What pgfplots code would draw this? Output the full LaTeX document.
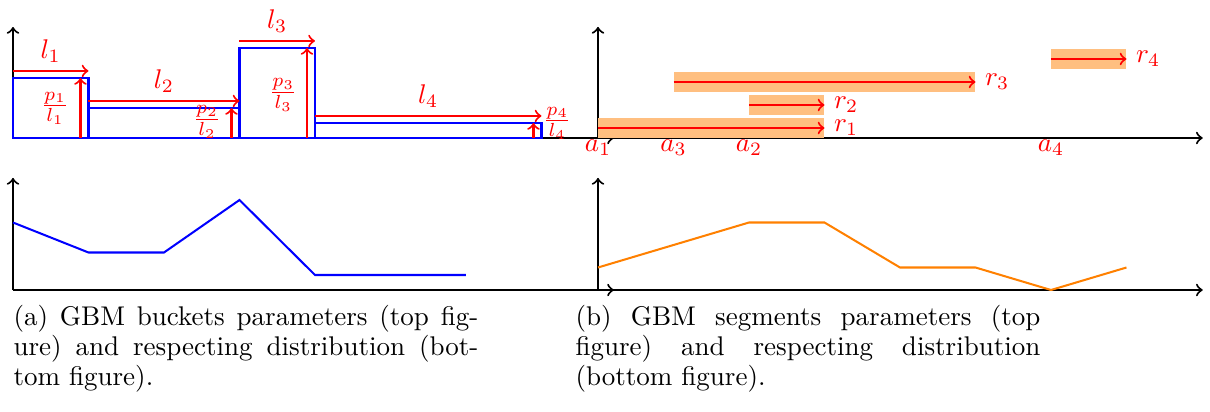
\documentclass[border=0pt]{standalone}
\usepackage{pgfplots}
\pgfplotsset{compat=1.18}
\begin{document}
\begin{tikzpicture}
\useasboundingbox (0pt,0pt) rectangle (447.7pt,-152.44pt);
\pgfplotsset{
  gbm/.style={
    axis lines=left, ticks=none, clip=false,
    axis line style={line width=0.75pt, -to},
    x=27.935pt, xmin=0, ymin=0, anchor=origin,
    every axis plot/.append style={line width=0.75pt},
  }
}
% ---------- top left: buckets ----------
\begin{axis}[gbm, at={(4.81pt,-51.06pt)}, y=5.55pt, xmax=7.96, ymax=7.4]
\addplot[ybar interval, draw=blue, fill=none] coordinates {(0,4) (1,2) (3,6) (4,1) (7,1)};
\addplot[red,-to] coordinates {(0,4.47) (1,4.47)};
\addplot[red,-to] coordinates {(0.894,0) (0.894,4)};
\addplot[red,-to] coordinates {(1,2.47) (3,2.47)};
\addplot[red,-to] coordinates {(2.894,0) (2.894,2)};
\addplot[red,-to] coordinates {(3,6.47) (4,6.47)};
\addplot[red,-to] coordinates {(3.894,0) (3.894,6)};
\addplot[red,-to] coordinates {(4,1.47) (7,1.47)};
\addplot[red,-to] coordinates {(6.894,0) (6.894,1)};
\node[red, anchor=base, yshift=4.5pt] at (axis cs:0.5,4.47) {$l_1$};
\node[red, anchor=base, yshift=4.5pt] at (axis cs:2,2.47) {$l_2$};
\node[red, anchor=base, yshift=4.5pt] at (axis cs:3.5,6.47) {$l_3$};
\node[red, anchor=base, yshift=4.5pt] at (axis cs:5.5,1.47) {$l_4$};
\node[red, inner sep=0pt] at (axis cs:0.556,2.0) {$\frac{p_1}{l_1}$};
\node[red, inner sep=0pt] at (axis cs:2.57,1.07) {$\frac{p_2}{l_2}$};
\node[red, inner sep=0pt] at (axis cs:3.58,2.87) {$\frac{p_3}{l_3}$};
\node[red, inner sep=0pt] at (axis cs:7.21,1.0) {$\frac{p_4}{l_4}$};
\end{axis}
% ---------- bottom left ----------
\begin{axis}[gbm, at={(4.81pt,-107.3pt)}, y=5.55pt, xmax=7.96, ymax=7.47]
\addplot[blue] coordinates {(0,4.5) (1,2.5) (2,2.5) (3,6) (4,1) (6,1)};
\end{axis}
% ---------- top right: segments ----------
\begin{axis}[gbm, at={(221.26pt,-51.06pt)}, y=8.51pt, xmax=8.01, ymax=4.83]
\addplot[fill=orange!50, draw=none] coordinates {(0,0) (3,0) (3,0.87) (0,0.87)} -- cycle;
\addplot[fill=orange!50, draw=none] coordinates {(2,1) (3,1) (3,1.87) (2,1.87)} -- cycle;
\addplot[fill=orange!50, draw=none] coordinates {(1,2) (5,2) (5,2.87) (1,2.87)} -- cycle;
\addplot[fill=orange!50, draw=none] coordinates {(6,3) (7,3) (7,3.87) (6,3.87)} -- cycle;
\addplot[red,-to] coordinates {(0,0.435) (3,0.435)};
\addplot[red,-to] coordinates {(2,1.435) (3,1.435)};
\addplot[red,-to] coordinates {(1,2.435) (5,2.435)};
\addplot[red,-to] coordinates {(6,3.435) (7,3.435)};
\node[red, anchor=west] at (axis cs:3,0.435) {$r_1$};
\node[red, anchor=west] at (axis cs:3,1.435) {$r_2$};
\node[red, anchor=west] at (axis cs:5,2.435) {$r_3$};
\node[red, anchor=west] at (axis cs:7,3.435) {$r_4$};
\node[red, anchor=north, inner sep=0pt, yshift=-0.5pt] at (axis cs:0,0) {$a_1$};
\node[red, anchor=north, inner sep=0pt, yshift=-0.5pt] at (axis cs:1,0) {$a_3$};
\node[red, anchor=north, inner sep=0pt, yshift=-0.5pt] at (axis cs:2,0) {$a_2$};
\node[red, anchor=north, inner sep=0pt, yshift=-0.5pt] at (axis cs:6,0) {$a_4$};
\end{axis}
% ---------- bottom right ----------
\begin{axis}[gbm, at={(221.26pt,-107.3pt)}, y=5.55pt, xmax=8.01, ymax=7.47]
\addplot[orange] coordinates {(0,1.5) (2,4.5) (3,4.5) (4,1.5) (5,1.5) (6,0) (7,1.5)};
\end{axis}
% ---------- captions ----------
\node[anchor=north west, inner sep=0pt, text width=172pt, align=justify,
      font=\fontsize{10}{11.1}\selectfont] at (4.81pt,-112.85pt)
  {(a) GBM buckets parameters (top fig-\linebreak ure) and respecting distribution (bot-\linebreak tom figure).};
\node[anchor=north west, inner sep=0pt, text width=172pt, align=justify,
      font=\fontsize{10}{11.1}\selectfont] at (212.75pt,-112.85pt)
  {(b) GBM segments parameters (top\linebreak figure) and respecting distribution\linebreak (bottom figure).};
\end{tikzpicture}
\end{document}
